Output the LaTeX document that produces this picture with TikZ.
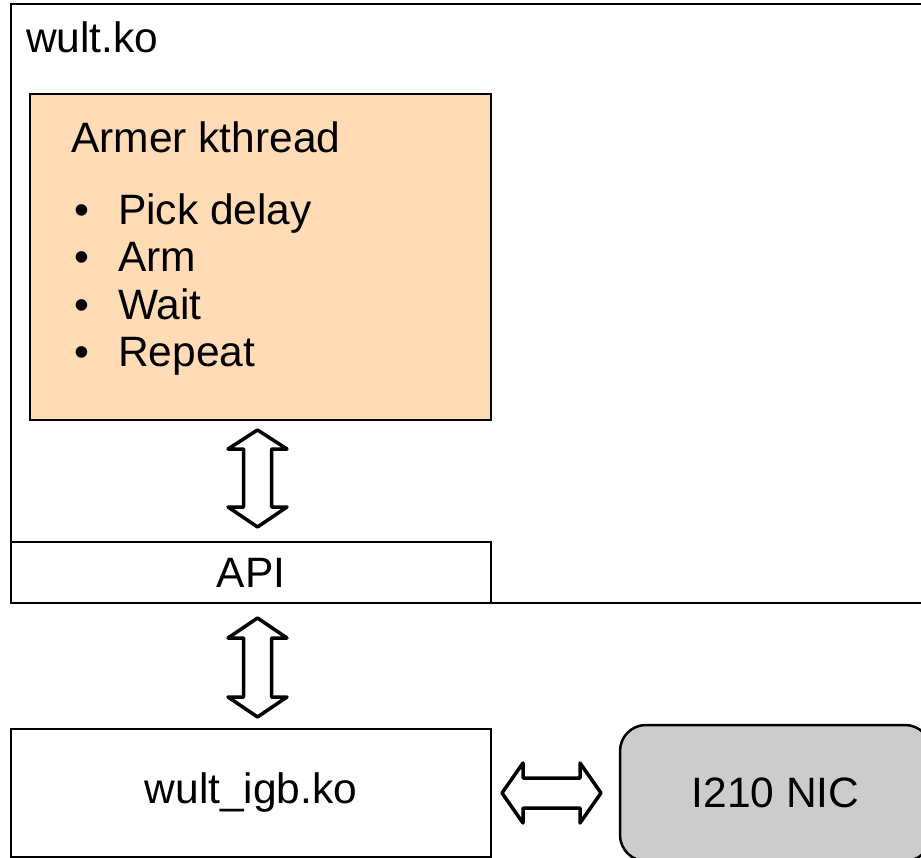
\documentclass[tikz,border=0pt]{standalone}
\usepackage{fontspec}
\setmainfont{Liberation Sans}
\definecolor{armerfill}{RGB}{255,219,182}
\definecolor{nicfill}{RGB}{204,204,204}
\begin{document}
\begin{tikzpicture}[x=1pt,y=-1pt,
  box/.style={draw=black,line width=1.5pt},
  blockarrow/.style={draw=black,fill=white,line width=3.5pt,line join=round},
  lbl/.style={inner sep=0pt,font=\fontsize{42.5}{50}\selectfont},
]
\useasboundingbox (0,0) rectangle (921,858);
% outer module
\draw[box] (11,4) rectangle (935,603);
\node[lbl,anchor=base west] (wult) at (26,53) {wult.ko};
% armer kthread box
\draw[box,fill=armerfill] (30,94) rectangle (491,420);
\node[lbl,anchor=base west] (armer) at (71,153) {Armer kthread};
\foreach \t/\yy [count=\i] in {Pick delay/225,Arm/272,Wait/320,Repeat/367}{
  \node[lbl,anchor=base west] (it\i) at (74,\yy) {\makebox[44pt][l]{\textbullet}\t};
}
% API box
\draw[box] (11,542) rectangle (491,603);
\node[lbl] (api) at (251,572.5) {API};
% wult_igb box
\draw[box] (11,729) rectangle (491,857);
\node[lbl] (igb) at (251,793) {wult\_igb.ko};
% NIC
\draw[box,line width=2.5pt,fill=nicfill,rounded corners=26pt] (620,725) rectangle (931,861);
\node[lbl] (nic) at (775.5,793) {I210 NIC};
% vertical arrow 1
\draw[blockarrow] (257.5,430) -- (287,449) -- (271.5,449) -- (271.5,507) -- (287,507)
  -- (257.5,527) -- (228,507) -- (243.5,507) -- (243.5,449) -- (228,449) -- cycle;
% vertical arrow 2
\draw[blockarrow] (257.5,618) -- (287,638) -- (271.5,638) -- (271.5,697) -- (287,697)
  -- (257.5,717) -- (228,697) -- (243.5,697) -- (243.5,638) -- (228,638) -- cycle;
% horizontal arrow
\draw[blockarrow] (502,793) -- (523,763) -- (523,778) -- (580,778) -- (580,763)
  -- (601,793) -- (580,823) -- (580,808) -- (523,808) -- (523,823) -- cycle;
\end{tikzpicture}
\end{document}
